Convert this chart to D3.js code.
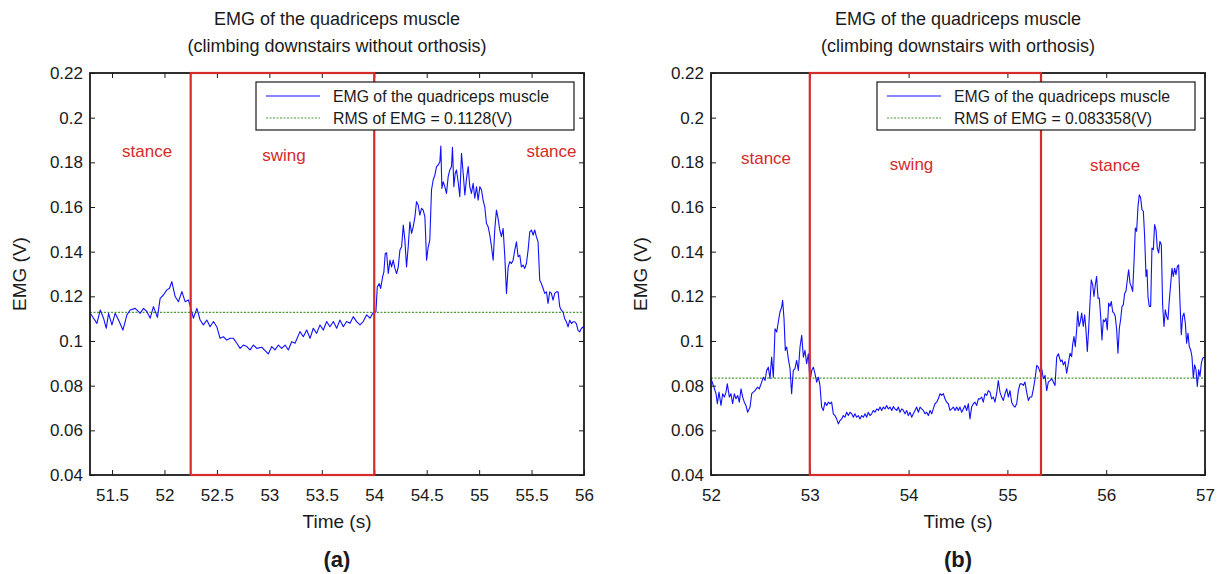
<!DOCTYPE html>
<html>
<head>
<meta charset="utf-8">
<script src="https://cdn.jsdelivr.net/npm/d3@7"></script>
<style>
  html, body { margin: 0; padding: 0; background: #fff; }
  svg { display: block; font-family: "Liberation Sans", Arial, Helvetica, sans-serif; }
</style>
</head>
<body>
<svg id="chart" width="1221" height="574"></svg>
<script>
// ---- Panel (a): climbing downstairs without orthosis ----
const timeA = [
  51.293,51.324,51.356,51.388,51.419,51.445,51.467,51.499,51.530,51.562,51.604,51.642,51.673,51.721,51.769,51.800,51.832,51.864,51.895,51.933,
  51.959,51.990,52.023,52.048,52.070,52.102,52.133,52.166,52.197,52.229,52.251,52.276,52.309,52.340,52.371,52.404,52.435,52.467,52.499,52.530,
  52.562,52.594,52.626,52.657,52.690,52.721,52.752,52.785,52.816,52.848,52.880,52.928,52.959,52.990,53.023,53.054,53.086,53.118,53.150,53.181,
  53.213,53.245,53.292,53.324,53.356,53.388,53.419,53.451,53.483,53.514,53.547,53.578,53.610,53.642,53.673,53.705,53.737,53.769,53.800,53.832,
  53.864,53.895,53.928,53.959,53.990,54.016,54.029,54.048,54.061,54.080,54.092,54.105,54.118,54.134,54.150,54.165,54.181,54.197,54.213,54.229,
  54.245,54.261,54.277,54.292,54.308,54.324,54.340,54.356,54.372,54.388,54.403,54.419,54.435,54.451,54.467,54.483,54.499,54.515,54.530,54.546,
  54.562,54.578,54.594,54.610,54.626,54.635,54.645,54.657,54.673,54.689,54.705,54.721,54.737,54.746,54.759,54.772,54.784,54.800,54.816,54.832,
  54.848,54.864,54.880,54.896,54.911,54.927,54.943,54.959,54.975,54.991,55.007,55.023,55.038,55.054,55.070,55.086,55.102,55.118,55.134,55.149,
  55.165,55.181,55.197,55.213,55.229,55.245,55.261,55.277,55.292,55.308,55.324,55.340,55.356,55.372,55.388,55.403,55.419,55.435,55.451,55.467,
  55.483,55.499,55.515,55.530,55.546,55.562,55.578,55.594,55.610,55.626,55.642,55.657,55.673,55.689,55.705,55.721,55.737,55.753,55.769,55.784,
  55.800,55.816,55.832,55.848,55.864,55.880,55.896,55.911,55.927,55.943,55.959,55.975,55.991,56.000
];
const emgA = [
  0.1124,0.1102,0.1079,0.1139,0.1102,0.1057,0.1124,0.1072,0.1124,0.1094,0.1049,0.1117,0.1139,0.1146,0.1124,0.1146,0.1132,0.1102,0.1154,0.1106,
  0.1191,0.1206,0.1229,0.1236,0.1266,0.1199,0.1176,0.1221,0.1176,0.1184,0.1146,0.1102,0.1146,0.1094,0.1072,0.1094,0.1064,0.1087,0.1064,0.1012,
  0.1019,0.1004,0.1012,0.1012,0.0990,0.0967,0.0982,0.0975,0.0960,0.0982,0.0967,0.0972,0.0957,0.0942,0.0975,0.0960,0.0982,0.0967,0.0982,0.0960,
  0.0997,0.0990,0.1042,0.1019,0.1049,0.1012,0.1057,0.1034,0.1072,0.1049,0.1087,0.1064,0.1087,0.1057,0.1094,0.1064,0.1087,0.1079,0.1109,0.1087,
  0.1072,0.1087,0.1117,0.1102,0.1127,0.1130,0.1242,0.1257,0.1235,0.1287,0.1310,0.1392,0.1395,0.1302,0.1362,0.1332,0.1362,0.1325,0.1302,0.1332,
  0.1407,0.1422,0.1519,0.1452,0.1332,0.1422,0.1534,0.1482,0.1512,0.1556,0.1624,0.1609,0.1564,0.1594,0.1586,0.1556,0.1362,0.1422,0.1452,0.1676,
  0.1721,0.1743,0.1781,0.1788,0.1803,0.1873,0.1683,0.1713,0.1691,0.1661,0.1736,0.1766,0.1781,0.1867,0.1691,0.1751,0.1766,0.1713,0.1646,0.1840,
  0.1751,0.1654,0.1728,0.1781,0.1691,0.1661,0.1706,0.1639,0.1691,0.1631,0.1691,0.1676,0.1631,0.1601,0.1526,0.1512,0.1474,0.1422,0.1362,0.1497,
  0.1586,0.1549,0.1497,0.1467,0.1504,0.1377,0.1213,0.1332,0.1355,0.1347,0.1362,0.1407,0.1444,0.1377,0.1384,0.1332,0.1340,0.1325,0.1347,0.1407,
  0.1489,0.1497,0.1474,0.1497,0.1467,0.1444,0.1272,0.1257,0.1235,0.1213,0.1220,0.1168,0.1220,0.1213,0.1183,0.1213,0.1220,0.1220,0.1153,0.1138,
  0.1130,0.1100,0.1086,0.1063,0.1093,0.1078,0.1086,0.1086,0.1078,0.1048,0.1041,0.1056,0.1063,0.1060
];

// ---- Panel (b): climbing downstairs with orthosis ----
const timeB = [
  52.000,52.024,52.051,52.064,52.081,52.101,52.118,52.135,52.152,52.165,52.186,52.202,52.219,52.236,52.253,52.270,52.287,52.304,52.321,52.337,
  52.354,52.371,52.395,52.412,52.428,52.445,52.469,52.489,52.513,52.530,52.547,52.563,52.580,52.597,52.614,52.631,52.648,52.665,52.681,52.698,
  52.715,52.725,52.739,52.752,52.766,52.783,52.800,52.816,52.833,52.850,52.867,52.884,52.901,52.918,52.935,52.951,52.968,52.985,53.002,53.019,
  53.036,53.053,53.070,53.086,53.103,53.120,53.137,53.154,53.171,53.188,53.205,53.221,53.238,53.255,53.272,53.289,53.306,53.323,53.339,53.356,
  53.373,53.390,53.407,53.424,53.441,53.457,53.474,53.491,53.508,53.525,53.542,53.559,53.576,53.592,53.609,53.626,53.643,53.660,53.677,53.694,
  53.711,53.727,53.744,53.761,53.778,53.795,53.812,53.829,53.846,53.862,53.879,53.896,53.913,53.930,53.947,53.964,53.981,53.997,54.014,54.031,
  54.048,54.065,54.082,54.099,54.116,54.132,54.149,54.166,54.183,54.200,54.217,54.234,54.250,54.267,54.284,54.301,54.318,54.335,54.352,54.368,
  54.385,54.402,54.419,54.436,54.453,54.470,54.487,54.503,54.520,54.537,54.554,54.571,54.588,54.605,54.621,54.638,54.655,54.672,54.689,54.706,
  54.723,54.740,54.756,54.773,54.790,54.807,54.824,54.841,54.858,54.874,54.891,54.908,54.925,54.942,54.959,54.976,54.993,55.010,55.026,55.043,
  55.060,55.077,55.094,55.111,55.128,55.145,55.161,55.178,55.195,55.212,55.229,55.246,55.263,55.280,55.297,55.313,55.330,55.347,55.364,55.381,
  55.398,55.414,55.431,55.448,55.465,55.482,55.499,55.516,55.539,55.553,55.566,55.583,55.600,55.617,55.634,55.650,55.660,55.674,55.687,55.701,
  55.711,55.725,55.738,55.752,55.768,55.782,55.795,55.809,55.822,55.836,55.849,55.863,55.876,55.890,55.903,55.917,55.930,55.944,55.957,55.971,
  55.984,55.998,56.011,56.025,56.038,56.052,56.065,56.079,56.092,56.106,56.119,56.133,56.146,56.160,56.173,56.187,56.200,56.214,56.227,56.241,
  56.254,56.268,56.281,56.295,56.308,56.322,56.335,56.349,56.362,56.376,56.389,56.403,56.413,56.423,56.436,56.450,56.463,56.477,56.490,56.504,
  56.517,56.531,56.544,56.558,56.571,56.585,56.598,56.612,56.625,56.639,56.652,56.666,56.679,56.693,56.706,56.720,56.733,56.747,56.760,56.774,
  56.787,56.801,56.814,56.828,56.841,56.855,56.868,56.882,56.895,56.909,56.922,56.936,56.949,56.963,56.976,57.000
];
const emgB = [
  0.0831,0.0801,0.0764,0.0719,0.0771,0.0711,0.0764,0.0749,0.0771,0.0808,0.0749,0.0764,0.0719,0.0764,0.0741,0.0756,0.0726,0.0786,0.0749,0.0726,
  0.0711,0.0681,0.0704,0.0764,0.0771,0.0778,0.0793,0.0786,0.0816,0.0838,0.0823,0.0868,0.0883,0.0831,0.0928,0.0838,0.1055,0.1040,0.1085,0.1130,
  0.1152,0.1182,0.1100,0.0958,0.0973,0.0920,0.0876,0.0764,0.0868,0.0876,0.0913,0.0868,0.0973,0.1025,0.0928,0.0958,0.0898,0.0943,0.0816,0.0868,
  0.0883,0.0853,0.0816,0.0838,0.0801,0.0704,0.0689,0.0726,0.0711,0.0726,0.0719,0.0726,0.0674,0.0666,0.0651,0.0629,0.0644,0.0651,0.0666,0.0659,
  0.0681,0.0666,0.0681,0.0674,0.0659,0.0674,0.0659,0.0666,0.0651,0.0666,0.0659,0.0674,0.0659,0.0681,0.0666,0.0674,0.0689,0.0681,0.0696,0.0689,
  0.0704,0.0689,0.0704,0.0696,0.0711,0.0696,0.0704,0.0689,0.0707,0.0696,0.0689,0.0704,0.0681,0.0696,0.0689,0.0674,0.0689,0.0666,0.0681,0.0659,
  0.0674,0.0689,0.0704,0.0681,0.0704,0.0696,0.0689,0.0674,0.0681,0.0666,0.0689,0.0674,0.0696,0.0719,0.0726,0.0741,0.0764,0.0756,0.0764,0.0741,
  0.0726,0.0719,0.0689,0.0696,0.0704,0.0689,0.0704,0.0689,0.0704,0.0681,0.0696,0.0711,0.0689,0.0719,0.0651,0.0704,0.0719,0.0726,0.0711,0.0741,
  0.0741,0.0749,0.0726,0.0764,0.0756,0.0778,0.0771,0.0741,0.0749,0.0726,0.0764,0.0823,0.0771,0.0749,0.0734,0.0764,0.0786,0.0749,0.0778,0.0726,
  0.0711,0.0704,0.0719,0.0778,0.0808,0.0808,0.0801,0.0816,0.0771,0.0734,0.0749,0.0749,0.0786,0.0831,0.0891,0.0883,0.0861,0.0876,0.0831,0.0846,
  0.0778,0.0816,0.0823,0.0831,0.0816,0.0801,0.0928,0.0943,0.0908,0.0915,0.0893,0.0908,0.0856,0.0900,0.0945,0.0930,0.0983,0.1020,0.0975,0.1050,
  0.1132,0.1065,0.1087,0.1125,0.1065,0.1117,0.1050,0.0953,0.1050,0.1170,0.1274,0.1252,0.1199,0.1252,0.1289,0.1192,0.1192,0.1110,0.1005,0.1095,
  0.1087,0.1102,0.1050,0.1170,0.1155,0.1177,0.1132,0.1125,0.1110,0.1050,0.0945,0.1057,0.1095,0.1155,0.1162,0.1214,0.1222,0.1274,0.1319,0.1259,
  0.1244,0.1222,0.1349,0.1506,0.1491,0.1603,0.1655,0.1640,0.1588,0.1581,0.1468,0.1289,0.1319,0.1199,0.1155,0.1155,0.1416,0.1409,0.1521,0.1498,
  0.1416,0.1394,0.1446,0.1431,0.1162,0.1065,0.1140,0.1110,0.1095,0.1184,0.1252,0.1326,0.1289,0.1326,0.1297,0.1334,0.1341,0.1170,0.1028,0.1110,
  0.1125,0.1080,0.0990,0.1035,0.0975,0.0960,0.0930,0.0833,0.0893,0.0871,0.0796,0.0871,0.0841,0.0900,0.0923,0.0930
];

// RMS levels and swing-phase intervals (s)
const rmsA = 0.1128;
const rmsB = 0.083358;
const swingA = [52.25, 54.0];
const swingB = [53.0, 55.34];

// Axis ranges and ticks
const yDomain = [0.04, 0.22];
const yTicks = [0.04, 0.06, 0.08, 0.10, 0.12, 0.14, 0.16, 0.18, 0.20, 0.22];
const xDomainA = [51.29, 56];
const xDomainB = [52, 57];
const xTicksA = [51.5, 52, 52.5, 53, 53.5, 54, 54.5, 55, 55.5, 56];
const xTicksB = [52, 53, 54, 55, 56, 57];

// Text
const titlesA = ["EMG of the quadriceps muscle", "(climbing downstairs without orthosis)"];
const titlesB = ["EMG of the quadriceps muscle", "(climbing downstairs with orthosis)"];
const legendEmg = "EMG of the quadriceps muscle";
const legendRmsA = "RMS of EMG = 0.1128(V)";
const legendRmsB = "RMS of EMG = 0.083358(V)";
const phasesA = [["stance", 51.835, 0.1825], ["swing", 53.14, 0.1807], ["stance", 55.69, 0.1825]];
const phasesB = [["stance", 52.557, 0.1793], ["swing", 54.03, 0.1766], ["stance", 56.09, 0.1762]];

const svg = d3.select("#chart");
const RED = "#d42b2b", BLUE = "#1010ff", GREEN = "#4e9a35", INK = "#1a1a1a";

const panels = [
  { left: 90, right: 584, time: timeA, emg: emgA, rms: rmsA, swing: swingA, xDomain: xDomainA, xTicks: xTicksA,
    titles: titlesA, rmsText: legendRmsA, phases: phasesA, tag: "(a)" },
  { left: 711, right: 1205, time: timeB, emg: emgB, rms: rmsB, swing: swingB, xDomain: xDomainB, xTicks: xTicksB,
    titles: titlesB, rmsText: legendRmsB, phases: phasesB, tag: "(b)" }
];
const plotTop = 73, plotBottom = 475;
const fmt = v => String(+v.toFixed(2));

panels.forEach(p => {
  const x = d3.scaleLinear().domain(p.xDomain).range([p.left, p.right]);
  const y = d3.scaleLinear().domain(yDomain).range([plotBottom, plotTop]);
  const cx = (p.left + p.right) / 2;
  const g = svg.append("g");

  // plot title
  g.append("text").attr("x", cx).attr("y", 25).attr("text-anchor", "middle")
    .attr("font-size", 18).attr("fill", INK).text(p.titles[0]);
  g.append("text").attr("x", cx).attr("y", 52).attr("text-anchor", "middle")
    .attr("font-size", 18).attr("fill", INK).text(p.titles[1]);

  // clip for data
  const clipId = "clip" + p.tag.replace(/\W/g, "");
  svg.append("clipPath").attr("id", clipId).append("rect")
    .attr("x", p.left).attr("y", plotTop).attr("width", p.right - p.left).attr("height", plotBottom - plotTop);

  // axes with inward ticks on all four sides
  const axB = d3.axisBottom(x).tickValues(p.xTicks).tickFormat(fmt).tickSize(-5).tickPadding(14);
  const axT = d3.axisTop(x).tickValues(p.xTicks).tickFormat("").tickSize(-5);
  const axL = d3.axisLeft(y).tickValues(yTicks).tickFormat(fmt).tickSize(-5).tickPadding(7);
  const axR = d3.axisRight(y).tickValues(yTicks).tickFormat("").tickSize(-5);

  const styleAxis = sel => {
    sel.select(".domain").remove();
    sel.selectAll(".tick line").attr("stroke", INK).attr("stroke-width", 1);
    sel.selectAll(".tick text").attr("fill", INK).attr("font-size", 17)
      .attr("font-family", '"Liberation Sans", Arial, sans-serif');
  };
  g.append("g").attr("transform", `translate(0,${plotBottom})`).call(axB).call(styleAxis);
  g.append("g").attr("transform", `translate(0,${plotTop})`).call(axT).call(styleAxis);
  g.append("g").attr("transform", `translate(${p.left},0)`).call(axL).call(styleAxis);
  g.append("g").attr("transform", `translate(${p.right},0)`).call(axR).call(styleAxis);

  // RMS level
  g.append("line").attr("clip-path", `url(#${clipId})`)
    .attr("x1", p.left).attr("x2", p.right).attr("y1", y(p.rms)).attr("y2", y(p.rms))
    .attr("stroke", GREEN).attr("stroke-width", 1.2).attr("stroke-dasharray", "2,1.5");

  // EMG trace
  const line = d3.line().x((d, i) => x(p.time[i])).y(d => y(d));
  g.append("path").datum(p.emg).attr("clip-path", `url(#${clipId})`)
    .attr("d", line).attr("fill", "none").attr("stroke", BLUE).attr("stroke-width", 1.1)
    .attr("stroke-linejoin", "round");

  // axes box
  g.append("rect").attr("x", p.left).attr("y", plotTop).attr("width", p.right - p.left).attr("height", plotBottom - plotTop)
    .attr("fill", "none").attr("stroke", INK).attr("stroke-width", 1.8);

  // swing-phase window
  g.append("rect").attr("x", x(p.swing[0])).attr("y", y(yDomain[1]))
    .attr("width", x(p.swing[1]) - x(p.swing[0])).attr("height", y(yDomain[0]) - y(yDomain[1]))
    .attr("fill", "none").attr("stroke", RED).attr("stroke-width", 2.2);

  // phase labels
  p.phases.forEach(([t, tx, v]) => {
    g.append("text").attr("x", x(tx)).attr("y", y(v)).attr("text-anchor", "middle")
      .attr("font-size", 17).attr("fill", RED).text(t);
  });

  // legend
  const lgW = 318, lgH = 48, lgX = p.right - 10 - lgW, lgY = 82;
  const lg = g.append("g").attr("transform", `translate(${lgX},${lgY})`);
  lg.append("rect").attr("width", lgW).attr("height", lgH).attr("fill", "#fff")
    .attr("stroke", INK).attr("stroke-width", 1.2);
  lg.append("line").attr("x1", 10).attr("x2", 64).attr("y1", 14).attr("y2", 14)
    .attr("stroke", BLUE).attr("stroke-width", 1.1);
  lg.append("line").attr("x1", 10).attr("x2", 64).attr("y1", 36).attr("y2", 36)
    .attr("stroke", GREEN).attr("stroke-width", 1.2).attr("stroke-dasharray", "2,1.5");
  lg.append("text").attr("x", 77).attr("y", 19.5).attr("font-size", 15.8).attr("fill", INK).text(legendEmg);
  lg.append("text").attr("x", 77).attr("y", 41.5).attr("font-size", 15.8).attr("fill", INK).text(p.rmsText);

  // axis labels
  g.append("text").attr("x", cx).attr("y", 528).attr("text-anchor", "middle")
    .attr("font-size", 19).attr("fill", INK).text("Time (s)");
  g.append("text").attr("transform", `translate(${p.left - 64},${(plotTop + plotBottom) / 2}) rotate(-90)`)
    .attr("text-anchor", "middle").attr("font-size", 19).attr("fill", INK).text("EMG (V)");
  g.append("text").attr("x", cx).attr("y", 567).attr("text-anchor", "middle")
    .attr("font-size", 22).attr("font-weight", "bold").attr("fill", INK).text(p.tag);
});
</script>
</body>
</html>
